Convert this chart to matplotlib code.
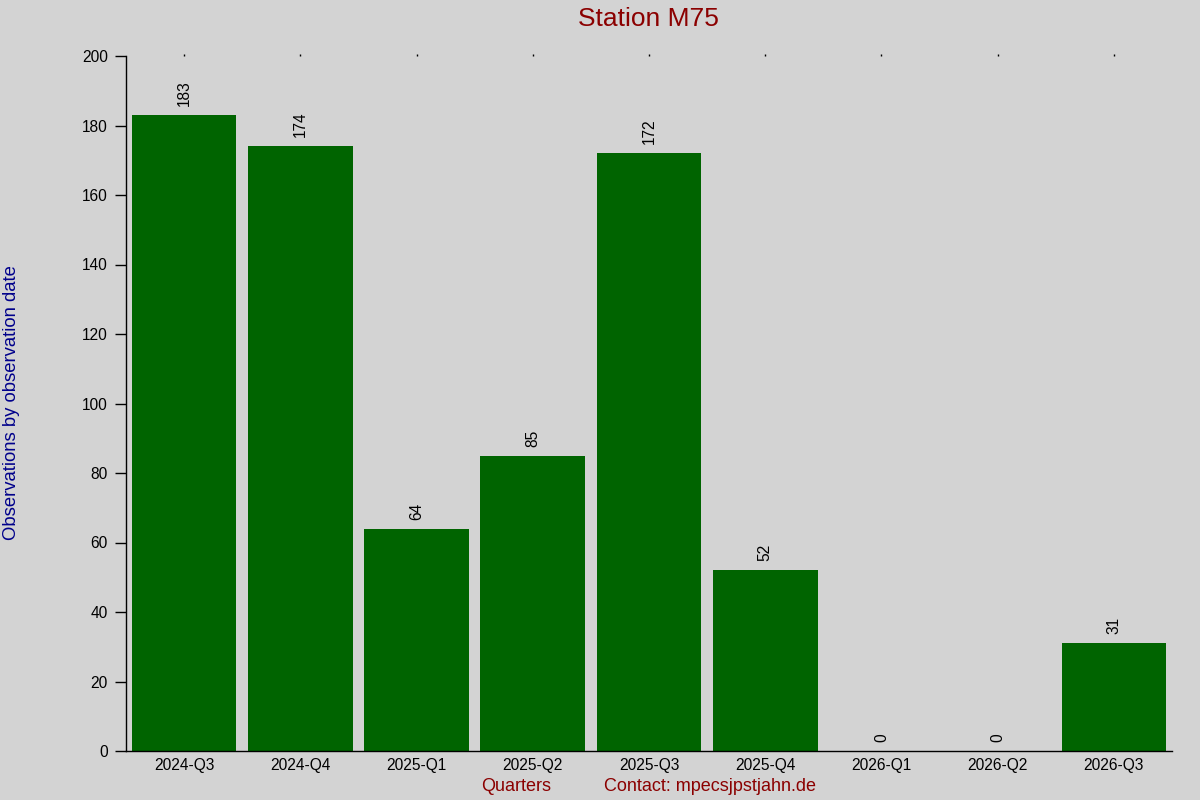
import matplotlib
matplotlib.use("Agg")
import matplotlib.pyplot as plt

quarters = ["2024-Q3", "2024-Q4", "2025-Q1", "2025-Q2", "2025-Q3",
            "2025-Q4", "2026-Q1", "2026-Q2", "2026-Q3"]
observations = [183, 174, 64, 85, 172, 52, 0, 0, 31]

plt.rcParams['font.family'] = ['Liberation Sans', 'DejaVu Sans']

bg = '#d3d3d3'
fig = plt.figure(figsize=(12, 8), dpi=100, facecolor=bg)
ax = fig.add_axes([0.105, 0.06125, 0.8717, 0.86875], facecolor=bg)

x = list(range(len(quarters)))
ax.bar(x, observations, width=0.9, color='#006400')

for xi, v in zip(x, observations):
    ax.annotate(str(v), (xi, v), xytext=(0, 6.5), textcoords='offset points',
                rotation=90, ha='center', va='bottom', fontsize=11.2, color='black')

ax.set_xlim(-0.5, 8.5)
ax.set_ylim(0, 200)
ax.set_yticks(range(0, 201, 20))
ax.set_xticks(x)
ax.set_xticklabels(quarters)
ax.tick_params(axis='x', length=0, pad=5, labelsize=11.2, colors='black')
ax.tick_params(axis='y', length=8, width=1, pad=5, labelsize=11.2, colors='black')

for s in ['top', 'right']:
    ax.spines[s].set_visible(False)
ax.spines['left'].set_linewidth(1)
ax.spines['bottom'].set_linewidth(1)

sec = ax.secondary_xaxis('top')
sec.set_xticks(x)
sec.set_xticklabels([])
sec.tick_params(length=1.2, width=1, direction='out')
sec.spines['top'].set_visible(False)

fig.text(0.5404, 0.976, "Station M75", ha='center', va='center',
         fontsize=19, color='#8b0000')
fig.text(0.0095, 0.497, "Observations by observation date", rotation=90,
         ha='center', va='center', fontsize=13.3, color='#00008b')
fig.text(0.4304, 0.0165, "Quarters", ha='center', va='center',
         fontsize=13, color='#8b0000')
fig.text(0.5917, 0.0165, "Contact: mpecsjpstjahn.de", ha='center', va='center',
         fontsize=13, color='#8b0000')

fig.savefig("out.png", dpi=100, facecolor=bg)
